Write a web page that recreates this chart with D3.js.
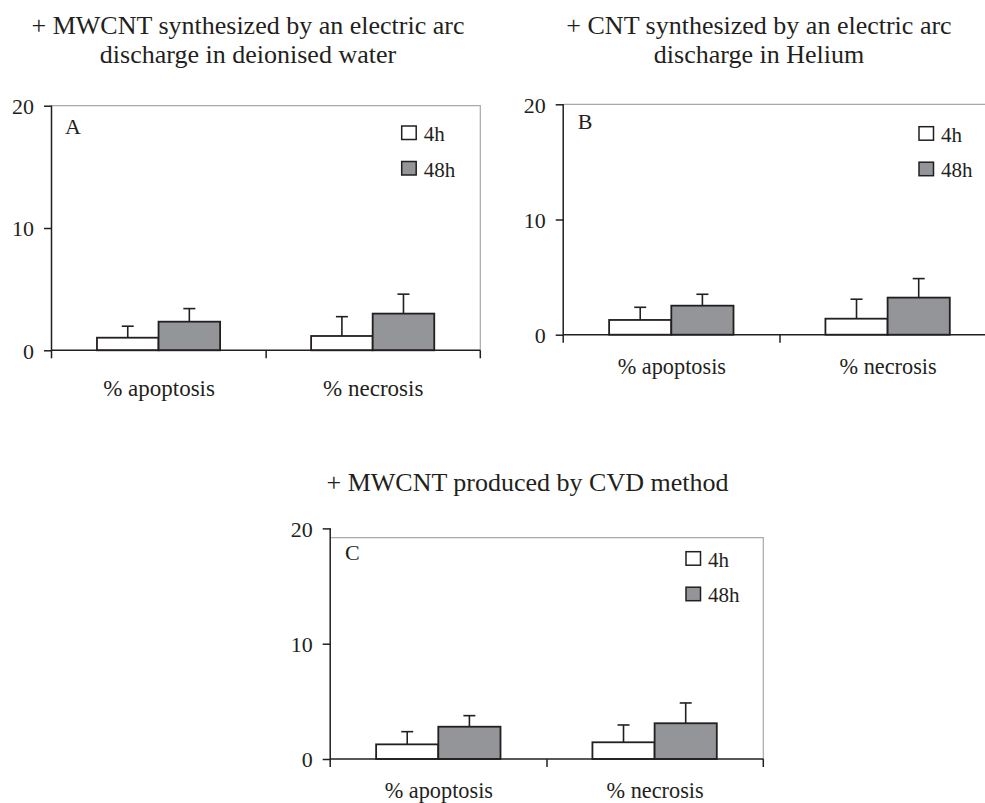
<!DOCTYPE html>
<html>
<head>
<meta charset="utf-8">
<script src="https://cdn.jsdelivr.net/npm/d3@7"></script>
<style>
  html, body { margin: 0; padding: 0; background: #fff; }
  svg { display: block; }
  text { font-family: "Liberation Serif", "Times New Roman", serif; fill: #231f20; }
</style>
</head>
<body>
<svg id="chart" width="985" height="803"></svg>
<script>
// ---------- data ----------
const categories = ["% apoptosis", "% necrosis"];
const seriesNames = ["4h", "48h"];
const yTickValues = [0, 10, 20];
const panelLetters = ["A", "B", "C"];

const titleA = ["+ MWCNT synthesized by an electric arc", "discharge in deionised water"];
const titleB = ["+ CNT synthesized by an electric arc", "discharge in Helium"];
const titleC = ["+ MWCNT produced by CVD method"];

// means and error (SD) per category, per series
const meanA4h  = [1.03, 1.17];
const errA4h   = [0.94, 1.58];
const meanA48h = [2.34, 3.00];
const errA48h  = [1.07, 1.59];

const meanB4h  = [1.28, 1.39];
const errB4h   = [1.10, 1.69];
const meanB48h = [2.52, 3.22];
const errB48h  = [0.99, 1.65];

const meanC4h  = [1.27, 1.45];
const errC4h   = [1.10, 1.50];
const meanC48h = [2.80, 3.10];
const errC48h  = [0.96, 1.76];

// ---------- layout (not data) ----------
const panels = [
  { letter: panelLetters[0], title: titleA, means: [meanA4h, meanA48h], errs: [errA4h, errA48h],
    x0: 52, x1: 480.3, yTop: 105.7, y0: 350.3, frameTop: 105.7,
    titleX: 248, titleY: [34.3, 63.3],
    letterDx: 13, letterDy: 28.5, legX: 401.7, legY: 126, catDy: 45.5, catSize: 23 },
  { letter: panelLetters[1], title: titleB, means: [meanB4h, meanB48h], errs: [errB4h, errB48h],
    x0: 563.7, x1: 996.3, yTop: 104.3, y0: 334.7, frameTop: 104.3,
    titleX: 759, titleY: [34.3, 63.3],
    letterDx: 14, letterDy: 25, legX: 919, legY: 126.7, catDy: 38.8, catSize: 22.3 },
  { letter: panelLetters[2], title: titleC, means: [meanC4h, meanC48h], errs: [errC4h, errC48h],
    x0: 330.7, x1: 763.3, yTop: 528.4, y0: 759, frameTop: 537.7,
    titleX: 527.5, titleY: [491],
    letterDx: 14.3, letterDy: 31.5, legX: 686, legY: 551.7, catDy: 39.3, catSize: 22.3 }
];

const dark = "#231f20";
const fills = ["#ffffff", "#939598"];
const frameColor = "#a7a9ac";
const serif = "'Liberation Serif', 'Times New Roman', serif";

const svg = d3.select("#chart");

panels.forEach(p => {
  const g = svg.append("g");

  const x = d3.scaleBand().domain(categories).range([p.x0, p.x1]).paddingInner(0).paddingOuter(0);
  const bw = x.bandwidth();
  const xs = d3.scaleBand().domain(seriesNames).range([bw * 0.21, bw * 0.785]).padding(0);
  const y = d3.scaleLinear().domain([0, 20]).range([p.y0, p.yTop]);

  // title
  p.title.forEach((line, i) => {
    g.append("text")
      .attr("x", p.titleX).attr("y", p.titleY[i])
      .attr("text-anchor", "middle")
      .style("font-family", serif)
      .style("font-size", "26px")
      .text(line);
  });

  // frame top & right (light gray)
  g.append("path")
    .attr("d", `M${p.x0},${p.frameTop}H${p.x1}V${p.y0}`)
    .attr("fill", "none").attr("stroke", frameColor).attr("stroke-width", 1.2);

  // bars with error bars
  seriesNames.forEach((s, si) => {
    categories.forEach((c, ci) => {
      const v = p.means[si][ci];
      const e = p.errs[si][ci];
      const bx = x(c) + xs(s);
      const cx = bx + xs.bandwidth() / 2;
      g.append("line")
        .attr("x1", cx).attr("x2", cx)
        .attr("y1", y(v)).attr("y2", y(v + e))
        .attr("stroke", dark).attr("stroke-width", 1.6);
      g.append("line")
        .attr("x1", cx - 6).attr("x2", cx + 6)
        .attr("y1", y(v + e)).attr("y2", y(v + e))
        .attr("stroke", dark).attr("stroke-width", 1.6);
      g.append("rect")
        .attr("x", bx).attr("width", xs.bandwidth())
        .attr("y", y(v)).attr("height", y(0) - y(v))
        .attr("fill", fills[si]).attr("stroke", dark).attr("stroke-width", 1.8);
    });
  });

  // y axis
  const yAxis = d3.axisLeft(y).tickValues(yTickValues).tickSize(8).tickPadding(10).tickFormat(d3.format("d"));
  const ya = g.append("g").attr("transform", `translate(${p.x0},0)`).call(yAxis);
  ya.attr("font-family", null);
  ya.select(".domain").attr("d", `M-0.5,${p.yTop}V${p.y0 + 8}`).attr("stroke", dark).attr("stroke-width", 1.5);
  ya.selectAll(".tick line").attr("stroke", dark).attr("stroke-width", 1.5);
  ya.selectAll(".tick text")
    .style("font-family", serif)
    .style("font-size", "22px").attr("fill", dark).attr("dy", "0.36em");

  // x axis: line + ticks at category boundaries
  g.append("line")
    .attr("x1", p.x0).attr("x2", p.x1).attr("y1", p.y0).attr("y2", p.y0)
    .attr("stroke", dark).attr("stroke-width", 1.5);
  const bounds = categories.map(c => x(c)).concat([p.x1]);
  g.selectAll(null).data(bounds.slice(1)).enter().append("line")
    .attr("x1", d => d).attr("x2", d => d)
    .attr("y1", p.y0).attr("y2", p.y0 + 8)
    .attr("stroke", dark).attr("stroke-width", 1.5);

  // category labels
  g.selectAll(null).data(categories).enter().append("text")
    .attr("x", d => x(d) + bw / 2)
    .attr("y", p.y0 + p.catDy)
    .attr("text-anchor", "middle")
    .style("font-family", serif)
    .style("font-size", p.catSize + "px")
    .text(d => d);

  // panel letter
  g.append("text")
    .attr("x", p.x0 + p.letterDx).attr("y", p.yTop + p.letterDy)
    .style("font-family", serif)
    .style("font-size", "22px")
    .text(p.letter);

  // legend
  seriesNames.forEach((s, si) => {
    const ly = p.legY + si * 35.5;
    g.append("rect")
      .attr("x", p.legX).attr("y", ly).attr("width", 14.5).attr("height", 13.5)
      .attr("fill", fills[si]).attr("stroke", dark).attr("stroke-width", 1.5);
    g.append("text")
      .attr("x", p.legX + 22).attr("y", ly + 15)
      .style("font-family", serif)
      .style("font-size", "21px")
      .text(s);
  });
});
</script>
</body>
</html>
